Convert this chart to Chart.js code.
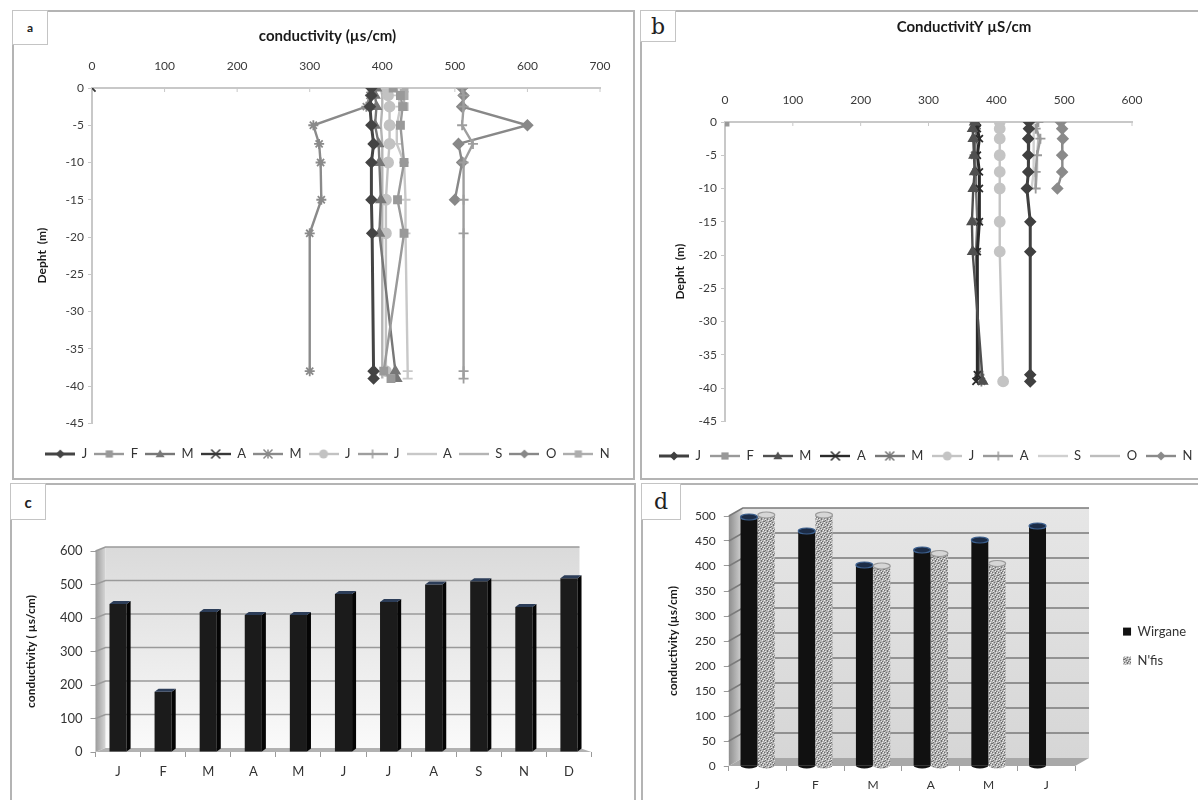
<!DOCTYPE html>
<html>
<head>
<meta charset="utf-8">
<script src="https://cdn.jsdelivr.net/npm/chart.js@4.4.1/dist/chart.umd.min.js"></script>
<style>
  html, body { margin: 0; padding: 0; background: #fff; overflow: hidden; }
  body { width: 1198px; height: 800px; position: relative; font-family: Lato, "Open Sans", sans-serif; }
  .panel { position: absolute; border: 2px solid #b4b4b4; box-sizing: border-box; overflow: hidden; background: #fff; }
  .panel canvas { position: absolute; left: 0; top: 0; }
  .tag { position: absolute; border: 1px solid #c4c4c4; box-sizing: border-box; background: #fff; color: #222;
         z-index: 2; display: flex; align-items: center; justify-content: center; }
</style>
</head>
<body>

<div class="panel" style="left:12px;top:10px;width:623px;height:470px"><canvas id="chartA" width="619" height="466"></canvas></div>
<div class="panel" style="left:640px;top:10px;width:570px;height:470px"><canvas id="chartB" width="636" height="466"></canvas></div>
<div class="panel" style="left:10px;top:483px;width:626px;height:330px"><canvas id="chartC" width="622" height="315"></canvas></div>
<div class="panel" style="left:641px;top:483px;width:570px;height:330px"><canvas id="chartD" width="555" height="315"></canvas></div>

<div class="tag" style="left:12px;top:10px;width:36px;height:35px;font:bold 12px Lato">a</div>
<div class="tag" style="left:640px;top:10px;width:36px;height:32px;font:22px 'DejaVu Serif'">b</div>
<div class="tag" style="left:10px;top:483px;width:36px;height:37px;font:bold 15px Lato">c</div>
<div class="tag" style="left:641px;top:483px;width:40px;height:37px;font:22px 'DejaVu Serif'">d</div>

<script>
// ---- panel a : conductivity profiles (depth in m) ----
const depthsA = [0, -1, -2.5, -5, -7.5, -10, -15, -19.5, -38, -39];
const namesA = ['J', 'F', 'M', 'A', 'M', 'J', 'J', 'A', 'S', 'O', 'N'];
const aJan = [385, 385, 383, 385, 388, 385, 385, 386, 388, 388];
const aFeb = [415, 425, 428, 425, null, 430, 421, 430, 402, 412];
const aMar = [392, 390, 392, 390, 395, 396, 398, 396, 418, 420];
const aApr = [0, null, null, null, null, null, null, null, null, null];
const aMay = [385, 383, 378, 305, 313, 315, 316, 300, 300, null];
const aJun = [405, 408, 410, 410, 410, 408, 405, 405, 405, null];
const aJul = [510, 512, 512, 510, 525, 512, 512, 512, 512, 512];
const aAug = [420, 422, 425, 420, 420, 430, 432, 432, 435, 435];
const aSep = [398, 400, 400, 398, 400, 400, 400, 400, 400, 400];
const aOct = [510, 512, 510, 600, 505, 510, 500, null, null, null];
const aNov = [430, 430, 430, null, null, null, null, null, null, null];
const seriesA = [aJan, aFeb, aMar, aApr, aMay, aJun, aJul, aAug, aSep, aOct, aNov];
const colorsA = ['#444444', '#999999', '#777777', '#383838', '#8a8a8a', '#c2c2c2', '#9e9e9e', '#c8c8c8', '#b4b4b4', '#888888', '#adadad'];
const markersA = ['rectRot', 'rect', 'triangle', 'crossRot', 'star', 'circle', 'cross', 'line', false, 'rectRot', 'rect'];

// ---- panel b ----
const depthsB = [0, -1, -2.5, -5, -7.5, -10, -15, -19.5, -38, -39];
const namesB = ['J', 'F', 'M', 'A', 'M', 'J', 'A', 'S', 'O', 'N'];
const bJan = [448, 448, 447, 447, 447, 445, 450, 450, 450, 450];
const bFeb = [0, null, null, null, null, null, null, null, null, null];
const bMar = [368, 365, 366, 367, 368, 366, 364, 365, null, 380];
const bApr = [372, 372, 375, 372, 375, 375, 375, 372, 372, 370];
const bMay = [368, 370, 370, 368, 370, 370, 372, 370, 375, 378];
const bJun = [405, 405, 405, 405, 405, 405, 405, 405, null, 410];
const bAug = [462, 458, 465, 460, 458, 458, null, null, null, null];
const bSep = [455, 455, 455, 455, 455, 452, null, null, null, null];
const bOct = [460, 460, 462, 460, 460, 458, null, null, null, null];
const bNov = [495, 497, 498, 497, 497, 490, null, null, null, null];
const seriesB = [bJan, bFeb, bMar, bApr, bMay, bJun, bAug, bSep, bOct, bNov];
const colorsB = ['#404040', '#999999', '#505050', '#2a2a2a', '#777777', '#c4c4c4', '#9a9a9a', '#d0d0d0', '#bdbdbd', '#8a8a8a'];
const markersB = ['rectRot', 'rect', 'triangle', 'crossRot', 'star', 'circle', 'cross', false, false, 'rectRot'];

// ---- panel c : monthly conductivity ----
const monthsC = ['J', 'F', 'M', 'A', 'M', 'J', 'J', 'A', 'S', 'N', 'D'];
const valuesC = [442, 180, 418, 409, 409, 472, 448, 500, 510, 433, 519];

// ---- panel d : Wirgane vs N'fis ----
const monthsD = ['J', 'F', 'M', 'A', 'M', 'J'];
const wirgane = [498, 470, 402, 432, 452, 480];
const nfis = [502, 502, 400, 425, 405, null];

Chart.defaults.font.family = 'Lato';

// draws the little marker used in the legend icons
function drawMarker(g, style, x, y, r) {
  g.beginPath();
  if (style === 'rectRot') {
    g.moveTo(x, y - r); g.lineTo(x + r, y); g.lineTo(x, y + r); g.lineTo(x - r, y); g.closePath(); g.fill();
  } else if (style === 'rect') {
    g.fillRect(x - r * 0.8, y - r * 0.8, r * 1.6, r * 1.6);
  } else if (style === 'triangle') {
    g.moveTo(x, y - r); g.lineTo(x + r, y + r * 0.7); g.lineTo(x - r, y + r * 0.7); g.closePath(); g.fill();
  } else if (style === 'circle') {
    g.arc(x, y, r, 0, Math.PI * 2); g.fill();
  } else if (style === 'crossRot' || style === 'star') {
    g.lineWidth = 1.5;
    g.moveTo(x - r, y - r); g.lineTo(x + r, y + r); g.moveTo(x + r, y - r); g.lineTo(x - r, y + r);
    if (style === 'star') { g.moveTo(x, y - r); g.lineTo(x, y + r); }
    g.stroke();
  } else if (style === 'cross') {
    g.lineWidth = 1.5; g.moveTo(x, y - r); g.lineTo(x, y + r); g.stroke();
  }
}

function legendIcon(color, style, lw) {
  const c = document.createElement('canvas');
  c.width = 30; c.height = 12;
  const g = c.getContext('2d');
  g.strokeStyle = color; g.fillStyle = color; g.lineWidth = lw;
  g.beginPath(); g.moveTo(0, 6); g.lineTo(30, 6); g.stroke();
  if (style) drawMarker(g, style, 15, 6, 4.5);
  return c;
}

function toPoints(depths, vals) {
  const pts = [];
  for (let i = 0; i < depths.length; i++) {
    if (vals[i] !== null) pts.push({ x: vals[i], y: depths[i] });
  }
  return pts;
}

function profileSets(names, series, colors, markers, depths) {
  return series.map((vals, i) => ({
    label: names[i],
    data: toPoints(depths, vals),
    showLine: true,
    borderColor: colors[i],
    backgroundColor: colors[i],
    borderWidth: i === 0 || (names === namesB && i === 3) ? 3 : 2.4,
    pointStyle: markers[i] || 'circle',
    pointRadius: markers[i] ? 5 : 0,
    pointBorderWidth: 1.8,
    yAxisID: 'y'
  }));
}

// short tick marks pointing into the plot under the top axis
const innerTicks = {
  id: 'innerTicks',
  beforeDatasetsDraw(chart) {
    const { ctx, chartArea } = chart;
    const sx = chart.scales.x;
    ctx.save();
    ctx.strokeStyle = '#c8c8c8';
    ctx.lineWidth = 1;
    ctx.beginPath();
    sx.ticks.forEach(t => {
      const px = sx.getPixelForValue(t.value);
      ctx.moveTo(px, chartArea.top);
      ctx.lineTo(px, chartArea.top + 4);
    });
    ctx.stroke();
    ctx.restore();
  }
};

function profileChart(id, opts) {
  const icons = opts.series.map((s, i) => legendIcon(opts.colors[i], opts.markers[i], i === 0 ? 3 : 2.4));
  return new Chart(document.getElementById(id), {
    type: 'scatter',
    data: { datasets: profileSets(opts.names, opts.series, opts.colors, opts.markers, opts.depths) },
    options: {
      responsive: false,
      animation: false,
      layout: { padding: { left: 8, right: 0, top: 0, bottom: opts.padBottom } },
      plugins: {
        title: {
          display: true, text: opts.title, color: '#1a1a1a',
          font: { size: 15, weight: 'bold' },
          padding: { top: opts.titleTop, bottom: 8 }
        },
        legend: {
          position: 'bottom',
          align: opts.legendAlign,
          title: { display: true, text: '', font: { size: 1 }, padding: { top: opts.legendGap, bottom: 0 } },
          labels: {
            usePointStyle: true,
            pointStyleWidth: 30,
            padding: opts.legendPad,
            color: '#333',
            font: { size: 13 },
            generateLabels: chart => chart.data.datasets.map((ds, i) => ({
              text: ds.label, pointStyle: icons[i], fillStyle: 'rgba(0,0,0,0)',
              strokeStyle: 'rgba(0,0,0,0)', lineWidth: 0, hidden: false, datasetIndex: i, fontColor: '#333'
            }))
          }
        },
        tooltip: { enabled: false }
      },
      scales: {
        x: {
          type: 'linear', position: 'top', min: 0, max: opts.xMax,
          ticks: { stepSize: 100, padding: 15, color: '#3a3a3a', font: { size: 12 } },
          grid: { drawOnChartArea: false, drawTicks: false },
          border: { color: '#c8c8c8', width: 2 },
          afterFit: s => { s.height = opts.xHeight; }
        },
        y: {
          type: 'linear', min: -45, max: 0,
          ticks: { stepSize: 5, padding: 4, color: '#3a3a3a', font: { size: 12 } },
          grid: { drawOnChartArea: false, tickLength: 4, color: '#c8c8c8' },
          border: { color: '#c8c8c8', width: 2 },
          title: { display: true, text: 'Depht  (m)', color: '#1a1a1a', font: { size: 12, weight: 'bold' }, padding: { top: opts.yTitlePad } },
          afterFit: s => { s.width = opts.yWidth; }
        },
        yR: {
          type: 'linear', position: 'right', display: true,
          ticks: { display: false }, grid: { display: false }, border: { display: false },
          afterFit: s => { s.width = opts.rightWidth; }
        }
      }
    },
    plugins: [innerTicks]
  });
}

profileChart('chartA', {
  names: namesA, series: seriesA, colors: colorsA, markers: markersA, depths: depthsA,
  title: 'conductivity (µs/cm)', xMax: 700, titleTop: 15, xHeight: 35, yWidth: 70, yTitlePad: 13,
  rightWidth: 33, padBottom: 7.5, legendGap: 16, legendPad: 7, legendAlign: 'center'
});

profileChart('chartB', {
  names: namesB, series: seriesB, colors: colorsB, markers: markersB, depths: depthsB,
  title: 'ConductivitY µS/cm', xMax: 600, titleTop: 6, xHeight: 78, yWidth: 75, yTitlePad: 23,
  rightWidth: 146, padBottom: 5.5, legendGap: 18, legendPad: 9, legendAlign: 'start'
});

// 3D looking walls, floor and gridlines behind the bars
function wall3d(dxL, dxR, dy, wallTop, wallBottom, side, floor, gridColor) {
  return {
    id: 'wall3d',
    beforeDatasetsDraw(chart) {
      const { ctx, chartArea: a } = chart;
      const sy = chart.scales.y;
      const bl = a.left + dxL, br = a.right + dxR;
      ctx.save();
      let g = ctx.createLinearGradient(0, a.top + dy, 0, a.bottom + dy);
      g.addColorStop(0, wallTop); g.addColorStop(1, wallBottom);
      ctx.fillStyle = g;
      ctx.fillRect(bl, a.top + dy, br - bl, a.bottom - a.top);
      g = ctx.createLinearGradient(a.left, 0, bl, 0);
      g.addColorStop(0, side); g.addColorStop(1, '#d6d6d6');
      ctx.fillStyle = g;
      ctx.beginPath();
      ctx.moveTo(a.left, a.bottom); ctx.lineTo(a.left, a.top);
      ctx.lineTo(bl, a.top + dy); ctx.lineTo(bl, a.bottom + dy); ctx.closePath(); ctx.fill();
      ctx.fillStyle = floor;
      ctx.beginPath();
      ctx.moveTo(a.left, a.bottom); ctx.lineTo(bl, a.bottom + dy);
      ctx.lineTo(br, a.bottom + dy); ctx.lineTo(a.right, a.bottom); ctx.closePath(); ctx.fill();
      ctx.strokeStyle = gridColor;
      ctx.lineWidth = 1.5;
      ctx.beginPath();
      sy.ticks.forEach(t => {
        const py = sy.getPixelForValue(t.value);
        if (t.value === sy.min) return;
        ctx.moveTo(a.left, py); ctx.lineTo(bl, py + dy); ctx.lineTo(br, py + dy);
      });
      ctx.stroke();
      ctx.restore();
    }
  };
}

const boxTops = {
  id: 'boxTops',
  afterDatasetsDraw(chart) {
    const ctx = chart.ctx;
    chart.getDatasetMeta(0).data.forEach(bar => {
      const { x, y, base, width } = bar.getProps(['x', 'y', 'base', 'width'], true);
      const x0 = x - width / 2, x1 = x + width / 2;
      ctx.save();
      ctx.fillStyle = '#050505';
      ctx.beginPath();
      ctx.moveTo(x1, y); ctx.lineTo(x1 + 4, y - 3); ctx.lineTo(x1 + 4, base - 3); ctx.lineTo(x1, base); ctx.closePath(); ctx.fill();
      ctx.fillStyle = '#2c3d58';
      ctx.beginPath();
      ctx.moveTo(x0, y); ctx.lineTo(x0 + 4, y - 3); ctx.lineTo(x1 + 4, y - 3); ctx.lineTo(x1, y); ctx.closePath(); ctx.fill();
      ctx.restore();
    });
  }
};

new Chart(document.getElementById('chartC'), {
  type: 'bar',
  data: {
    labels: monthsC,
    datasets: [{ data: valuesC, backgroundColor: '#1b1b1b', barPercentage: 0.38, categoryPercentage: 1, yAxisID: 'y' }]
  },
  options: {
    responsive: false,
    animation: false,
    layout: { padding: { left: 4, right: 42.5, top: 66, bottom: 0 } },
    plugins: { legend: { display: false }, tooltip: { enabled: false } },
    scales: {
      x: {
        grid: { drawOnChartArea: false, tickLength: 5, color: '#9a9a9a' },
        border: { display: false },
        ticks: { padding: 7, color: '#333', font: { size: 13 } },
        afterFit: s => { s.height = 48; }
      },
      y: {
        min: 0, max: 600,
        ticks: { stepSize: 100, padding: 8, color: '#333', font: { size: 13 } },
        grid: { drawOnChartArea: false, tickLength: 5, color: '#9a9a9a' },
        border: { display: false },
        title: { display: true, text: 'conductivity ( µs/cm)', color: '#1a1a1a', font: { size: 12, weight: 'bold' }, padding: { top: 8 } },
        afterFit: s => { s.width = 79.5; }
      }
    }
  },
  plugins: [wall3d(10, -12, -4, '#dadada', '#fafafa', '#9c9c9c', '#b2b2b2', '#9a9a9a'), boxTops]
});

// speckled fill for the N'fis bars
function speckle() {
  const c = document.createElement('canvas');
  c.width = 6; c.height = 6;
  const g = c.getContext('2d');
  g.fillStyle = '#b4b4b4'; g.fillRect(0, 0, 6, 6);
  g.fillStyle = '#6e6e6e';
  [[0, 0], [3, 1], [1, 3], [4, 4], [5, 2], [2, 5], [1, 0], [4, 3]].forEach(p => g.fillRect(p[0], p[1], 1, 1));
  g.fillStyle = '#ececec';
  [[1, 1], [4, 2], [2, 4], [5, 5], [0, 3]].forEach(p => g.fillRect(p[0], p[1], 1, 1));
  return g.createPattern(c, 'repeat');
}

const cylTops = ['#1c2c46', '#d6d6d6'];
const cylRims = ['#3b5f8e', '#9a9a9a'];
const cylinders = {
  id: 'cylinders',
  afterDatasetsDraw(chart) {
    const ctx = chart.ctx;
    chart.data.datasets.forEach((ds, i) => {
      chart.getDatasetMeta(i).data.forEach((bar, j) => {
        if (ds.data[j] === null) return;
        const { x, y, base, width } = bar.getProps(['x', 'y', 'base', 'width'], true);
        ctx.save();
        ctx.fillStyle = ds.backgroundColor;
        ctx.beginPath(); ctx.ellipse(x, base, width / 2, 3, 0, 0, Math.PI); ctx.fill();
        ctx.beginPath(); ctx.ellipse(x, y, width / 2, 3, 0, 0, Math.PI * 2);
        ctx.fillStyle = cylTops[i]; ctx.fill();
        ctx.strokeStyle = cylRims[i]; ctx.lineWidth = 1.2; ctx.stroke();
        ctx.restore();
      });
    });
  }
};

new Chart(document.getElementById('chartD'), {
  type: 'bar',
  data: {
    labels: monthsD,
    datasets: [
      { label: 'Wirgane', data: wirgane, backgroundColor: '#111111', borderWidth: 0, categoryPercentage: 0.6, barPercentage: 0.98, yAxisID: 'y' },
      { label: "N'fis", data: nfis, backgroundColor: speckle(), borderColor: '#aaaaaa', borderWidth: 0, categoryPercentage: 0.6, barPercentage: 0.98, yAxisID: 'y' }
    ]
  },
  options: {
    responsive: false,
    animation: false,
    layout: { padding: { left: 4, right: 2, top: 31, bottom: 0 } },
    plugins: {
      legend: {
        position: 'right',
        fullSize: false,
        title: { display: true, text: '', font: { size: 1 }, padding: { top: 9, bottom: 0 } },
        labels: { boxWidth: 8, boxHeight: 8, padding: 16, color: '#333', font: { size: 13 } }
      },
      tooltip: { enabled: false }
    },
    scales: {
      x: {
        grid: { drawOnChartArea: false, tickLength: 5, color: '#9a9a9a' },
        border: { display: false },
        ticks: { padding: 7, color: '#333', font: { size: 12 } },
        afterFit: s => { s.height = 34; }
      },
      y: {
        min: 0, max: 500,
        ticks: { stepSize: 50, padding: 8, color: '#333', font: { size: 12 } },
        grid: { drawOnChartArea: false, tickLength: 5, color: '#9a9a9a' },
        border: { display: false },
        title: { display: true, text: 'conductivity (µs/cm)', color: '#1a1a1a', font: { size: 12, weight: 'bold' }, padding: { top: 19 } },
        afterFit: s => { s.width = 81.8; }
      },
      yR: {
        type: 'linear', position: 'right', display: true,
        ticks: { display: false }, grid: { display: false }, border: { display: false },
        afterFit: s => { s.width = 32; }
      }
    }
  },
  plugins: [wall3d(14, 14, -8, '#e6e6e6', '#d6d6d6', '#8e8e8e', '#a8a8a8', '#7a7a7a'), cylinders]
});
</script>
</body>
</html>
